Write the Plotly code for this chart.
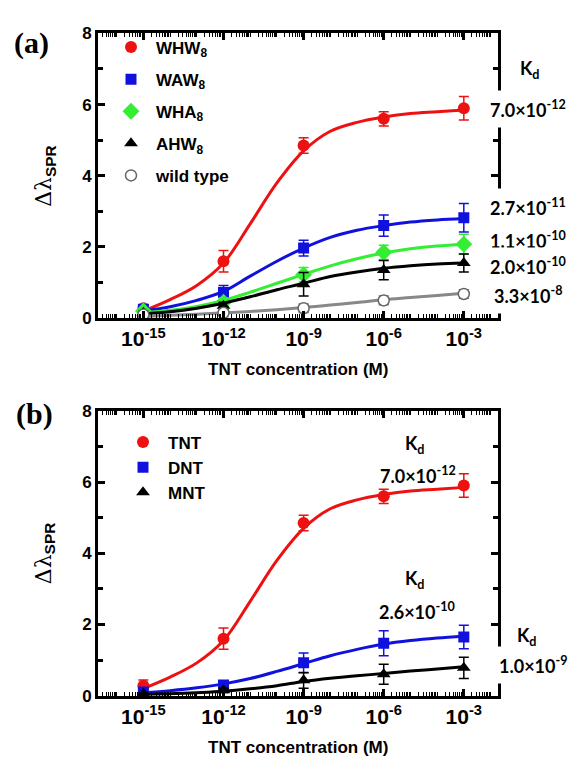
import plotly.graph_objects as go

W, H = 581, 770

# ---------------- data ----------------
conc = [1e-15, 1e-12, 1e-9, 1e-6, 1e-3]
fit_conc = [1e-15, 1e-14, 1e-13, 1e-12, 1e-11, 1e-10, 1e-9, 1e-8, 1e-7, 1e-6, 1e-5, 1e-4, 1e-3]

# panel (a)
whw8 = [0.28, 1.6, 4.85, 5.6, 5.9]
whw8_err = [0.1, 0.3, 0.22, 0.2, 0.33]
waw8 = [0.25, 0.72, 1.97, 2.6, 2.82]
waw8_err = [0.08, 0.2, 0.22, 0.3, 0.4]
wha8 = [0.2, 0.45, 1.22, 1.85, 2.08]
wha8_err = [0.06, 0.12, 0.2, 0.2, 0.28]
ahw8 = [0.15, 0.35, 0.95, 1.35, 1.55]
ahw8_err = [0.05, 0.1, 0.33, 0.27, 0.25]
wild = [0.1, 0.15, 0.28, 0.5, 0.68]
wild_err = [0.05, 0.1, 0.12, 0.12, 0.12]

whw8_fit = [0.2, 0.52, 0.92, 1.55, 2.65, 3.8, 4.7, 5.25, 5.5, 5.65, 5.75, 5.8, 5.85]
waw8_fit = [0.2, 0.32, 0.5, 0.75, 1.18, 1.6, 1.97, 2.27, 2.47, 2.6, 2.7, 2.76, 2.8]
wha8_fit = [0.15, 0.22, 0.33, 0.5, 0.73, 0.98, 1.23, 1.47, 1.67, 1.83, 1.95, 2.03, 2.08]
ahw8_fit = [0.12, 0.18, 0.28, 0.42, 0.6, 0.8, 0.98, 1.17, 1.3, 1.4, 1.47, 1.52, 1.55]
wild_fit = [0.05, 0.08, 0.11, 0.15, 0.19, 0.24, 0.3, 0.37, 0.44, 0.52, 0.58, 0.64, 0.7]

# panel (b)
tnt = [0.28, 1.6, 4.85, 5.6, 5.9]
tnt_err = [0.16, 0.3, 0.22, 0.2, 0.33]
dnt = [0.1, 0.3, 0.92, 1.47, 1.65]
dnt_err = [0.05, 0.08, 0.28, 0.35, 0.33]
mnt = [0.05, 0.15, 0.43, 0.6, 0.78]
mnt_err = [0.03, 0.06, 0.22, 0.28, 0.3]

tnt_fit = [0.2, 0.52, 0.92, 1.55, 2.65, 3.8, 4.7, 5.25, 5.5, 5.65, 5.75, 5.8, 5.85]
dnt_fit = [0.08, 0.14, 0.22, 0.33, 0.48, 0.68, 0.9, 1.12, 1.3, 1.45, 1.55, 1.62, 1.67]
mnt_fit = [0.03, 0.05, 0.08, 0.12, 0.19, 0.28, 0.4, 0.49, 0.56, 0.62, 0.69, 0.75, 0.81]

tick_vals = [1e-15, 1e-12, 1e-9, 1e-6, 1e-3]
tick_text = ["10<sup>-15</sup>", "10<sup>-12</sup>", "10<sup>-9</sup>", "10<sup>-6</sup>", "10<sup>-3</sup>"]
minor_decades = list(range(-17, -1))
minor_digits = [1, 2, 3, 4, 5, 6, 7, 8, 9]

kd_a = ["7.0×10<sup>-12</sup>", "2.7×10<sup>-11</sup>", "1.1×10<sup>-10</sup>",
        "2.0×10<sup>-10</sup>", "3.3×10<sup>-8</sup>"]
kd_b = ["7.0×10<sup>-12</sup>", "2.6×10<sup>-10</sup>", "1.0×10<sup>-9</sup>"]

RED, BLUE, GREEN, BLACK, GRAY = "#EE1111", "#1111DD", "#33EE33", "#000000", "#888888"

minor_vals = [d * 10.0 ** e for e in minor_decades for d in minor_digits]


def px(x):
    return x / W


def py(y):
    return 1 - y / H


fig = go.Figure()


def add_series(xa, ya, legend, name, y, err, fit, color, symbol, size, mfill=None, mline=None):
    fig.add_trace(go.Scatter(
        x=fit_conc, y=fit, mode="lines", xaxis=xa, yaxis=ya,
        line=dict(color=color, width=3, shape="spline", smoothing=1.0),
        showlegend=False, hoverinfo="skip"))
    fig.add_trace(go.Scatter(
        x=conc, y=y, mode="markers", xaxis=xa, yaxis=ya, name=name,
        legend=legend, legendgroup=name,
        marker=dict(symbol=symbol, size=size, color=mfill or color,
                    line=dict(color=mline or color, width=1.5 if mline else 0)),
        error_y=dict(type="data", array=err, color=color if not mline else mline,
                     thickness=1.5, width=5)))


add_series("x", "y", "legend", "WHW<sub>8</sub>", whw8, whw8_err, whw8_fit, RED, "circle", 12)
add_series("x", "y", "legend", "WAW<sub>8</sub>", waw8, waw8_err, waw8_fit, BLUE, "square", 11)
add_series("x", "y", "legend", "WHA<sub>8</sub>", wha8, wha8_err, wha8_fit, GREEN, "diamond", 13)
add_series("x", "y", "legend", "AHW<sub>8</sub>", ahw8, ahw8_err, ahw8_fit, BLACK, "triangle-up", 12)
add_series("x", "y", "legend", "wild type", wild, wild_err, wild_fit, GRAY, "circle", 11,
           mfill="white", mline="#666666")

add_series("x2", "y2", "legend2", "TNT", tnt, tnt_err, tnt_fit, RED, "circle", 12)
add_series("x2", "y2", "legend2", "DNT", dnt, dnt_err, dnt_fit, BLUE, "square", 11)
add_series("x2", "y2", "legend2", "MNT", mnt, mnt_err, mnt_fit, BLACK, "triangle-up", 12)

xdom = [px(98), px(498)]
xcommon = dict(
    type="log", range=[-16.7, -1.72], domain=xdom,
    tickmode="array", tickvals=tick_vals, ticktext=tick_text,
    ticks="inside", ticklen=7, tickwidth=2.5, tickcolor="black",
    showline=True, linewidth=3, linecolor="black", mirror="ticks",
    showgrid=False, zeroline=False,
    tickfont=dict(family="Liberation Sans", size=21, color="black", weight="bold"),
    minor=dict(ticks="inside", ticklen=4, tickwidth=1.3, tickcolor="black",
               tickmode="array", tickvals=minor_vals, showgrid=False),
)
ycommon = dict(
    range=[0, 8], dtick=2, tick0=0,
    ticks="inside", ticklen=7, tickwidth=2.5, tickcolor="black",
    showline=True, linewidth=3, linecolor="black", mirror="ticks",
    showgrid=False, zeroline=False,
    tickfont=dict(family="Liberation Sans", size=17, color="black", weight="bold"),
    minor=dict(ticks="inside", ticklen=5, tickwidth=2.5, tickcolor="black", dtick=1,
               showgrid=False),
)

leg_font = dict(family="Liberation Sans", size=17, color="black", weight="bold")

fig.update_layout(
    width=W, height=H,
    margin=dict(l=0, r=0, t=0, b=0),
    paper_bgcolor="white", plot_bgcolor="white",
    xaxis=dict(xcommon, anchor="y"),
    yaxis=dict(ycommon, anchor="x", domain=[py(317), py(25)]),
    xaxis2=dict(xcommon, anchor="y2"),
    yaxis2=dict(ycommon, anchor="x2", domain=[py(704), py(412)]),
    legend=dict(x=px(106), y=py(21), xanchor="left", yanchor="top",
                font=leg_font, bgcolor="rgba(0,0,0,0)", tracegroupgap=7,
                itemwidth=40),
    legend2=dict(x=px(118), y=py(426), xanchor="left", yanchor="top",
                 font=leg_font, bgcolor="rgba(0,0,0,0)", tracegroupgap=0,
                 itemwidth=40),
    showlegend=True,
)

ann = []
kd_font = dict(family="Lato", size=18, color="black", weight="bold")
# panel labels
ann.append(dict(x=px(31), y=py(35), text="<b>(a)</b>",
                font=dict(family="Liberation Serif", size=30, color="black")))
ann.append(dict(x=px(34), y=py(415), text="<b>(b)</b>",
                font=dict(family="Liberation Serif", size=30, color="black")))
# axis titles
ytitle = ("Δλ<sub><span style='font-family:Liberation Sans;font-weight:bold'>SPR</span></sub>")
for yc in (171, 558):
    ann.append(dict(x=px(45), y=py(yc), textangle=-90, text=ytitle,
                    font=dict(family="DejaVu Serif", size=22, color="black")))
for yc in (370, 757):
    ann.append(dict(x=px(298), y=py(yc), text="TNT concentration (M)",
                    font=dict(family="Liberation Sans", size=17, color="black", weight="bold")))
# Kd labels panel (a)
ann.append(dict(x=px(530), y=py(62), text="K<sub>d</sub>", font=kd_font))
for txt, yc in zip(kd_a, [103, 203, 237, 263, 293]):
    ann.append(dict(x=px(528), y=py(yc), text=txt, font=kd_font,
                    bgcolor="white", borderpad=6))
# Kd labels panel (b)
ann.append(dict(x=px(415), y=py(447), text="K<sub>d</sub>", font=kd_font))
ann.append(dict(x=px(418), y=py(478), text=kd_b[0], font=kd_font))
ann.append(dict(x=px(415), y=py(585), text="K<sub>d</sub>", font=kd_font))
ann.append(dict(x=px(417), y=py(617), text=kd_b[1], font=kd_font))
ann.append(dict(x=px(533), y=py(673), text=kd_b[2], font=kd_font,
                bgcolor="white", borderpad=6))
ann.append(dict(x=px(527), y=py(643), text="K<sub>d</sub>", font=kd_font))

for a in ann:
    a.update(xref="paper", yref="paper", showarrow=False,
             xanchor="center", yanchor="middle")
fig.update_layout(annotations=ann)

fig.write_html("out.html", config={"displayModeBar": False},
               post_script="document.body.style.margin='0px';")
